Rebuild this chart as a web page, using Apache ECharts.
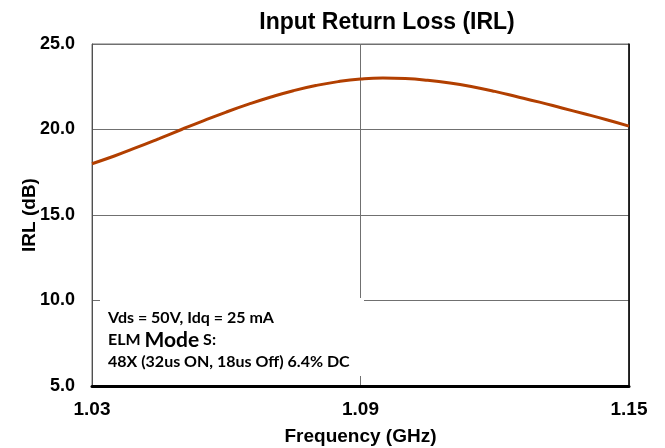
<!DOCTYPE html>
<html>
<head>
<meta charset="utf-8">
<script src="https://cdn.jsdelivr.net/npm/echarts@6/dist/echarts.min.js"></script>
<style>
  html, body { margin: 0; padding: 0; background: #fff; }
  #main { width: 665px; height: 448px; }
</style>
</head>
<body>
<div id="main"></div>
<script>
var freqs = [1.03, 1.035, 1.04, 1.045, 1.05, 1.055, 1.06, 1.065, 1.07, 1.075, 1.08, 1.085, 1.09, 1.095, 1.10, 1.105, 1.11, 1.115, 1.12, 1.125, 1.13, 1.135, 1.14, 1.145, 1.15];
var irl = [18.0, 18.45, 18.95, 19.47, 20.0, 20.52, 21.02, 21.48, 21.9, 22.27, 22.57, 22.8, 22.95, 23.01, 22.98, 22.88, 22.72, 22.5, 22.23, 21.92, 21.6, 21.26, 20.92, 20.57, 20.2];
var yTicks = [5, 10, 15, 20, 25];
var xTicks = [1.03, 1.09, 1.15];

var noteLines = [
    '{a|Vds = 50V, Idq = 25 mA}',
    '{a|ELM }{c|Mode}{a| S:}',
    '{a|48X (32us ON, 18us Off) 6.4% DC}'
];

var points = [];
for (var i = 0; i < freqs.length; i++) {
    points.push([freqs[i], irl[i]]);
}

var myChart = echarts.init(document.getElementById('main'));

var option = {
    animation: false,
    backgroundColor: '#fff',
    textStyle: { fontFamily: 'Liberation Sans' },
    title: {
        text: 'Input Return Loss (IRL)',
        left: 382,
        textAlign: 'center',
        top: 6,
        textStyle: { fontSize: 23, fontWeight: 'bold', color: '#000', fontFamily: 'Liberation Sans' }
    },
    grid: {
        left: 92,
        right: 36,
        top: 44,
        bottom: 62,
        outerBoundsMode: 'none',
        show: true,
        borderColor: '#707070',
        borderWidth: 1
    },
    xAxis: {
        type: 'value',
        min: xTicks[0],
        max: xTicks[xTicks.length - 1],
        interval: xTicks[1] - xTicks[0],
        name: 'Frequency (GHz)',
        nameLocation: 'middle',
        nameGap: 41,
        nameTextStyle: { fontSize: 19, fontWeight: 'bold', color: '#000' },
        axisLine: { lineStyle: { color: '#000', width: 3 } },
        axisTick: { show: false },
        axisLabel: {
            margin: 14,
            fontSize: 19,
            fontWeight: 'bold',
            color: '#000',
            formatter: function (v) { return v.toFixed(2); }
        },
        splitLine: { show: true, lineStyle: { color: '#707070', width: 1 } }
    },
    yAxis: [
        {
            type: 'value',
            min: yTicks[0],
            max: yTicks[yTicks.length - 1],
            interval: yTicks[1] - yTicks[0],
            name: 'IRL (dB)',
            nameLocation: 'middle',
            nameGap: 53,
            nameRotate: 90,
            nameMoveOverlap: false,
            nameTextStyle: { fontSize: 19, fontWeight: 'bold', color: '#000' },
            axisLine: { show: true, lineStyle: { color: '#505050', width: 1 } },
            axisTick: { show: false },
            axisLabel: {
                margin: 17,
                fontSize: 18,
                fontWeight: 'bold',
                color: '#000',
                formatter: function (v) { return v.toFixed(1); }
            },
            splitLine: { show: true, lineStyle: { color: '#707070', width: 1 } }
        },
        {
            type: 'value',
            position: 'right',
            min: yTicks[0],
            max: yTicks[yTicks.length - 1],
            axisLine: { show: true, lineStyle: { color: '#000', width: 1.5 } },
            axisTick: { show: false },
            axisLabel: { show: false },
            splitLine: { show: false }
        }
    ],
    series: [
        {
            name: 'IRL',
            type: 'line',
            data: points,
            smooth: true,
            showSymbol: false,
            lineStyle: { color: '#B23F00', width: 3 },
            z: 3
        }
    ],
    graphic: [
        {
            type: 'rect',
            left: 100,
            top: 298,
            shape: { width: 264, height: 78 },
            style: { fill: '#fff' },
            z: 10
        },
        {
            type: 'text',
            left: 108,
            top: 310,
            z: 11,
            style: {
                text: noteLines.join('\n'),
                fontFamily: 'Lato',
                rich: {
                    a: { fontSize: 16, fontWeight: 'bold', fontFamily: 'Lato', fill: '#000', lineHeight: 22 },
                    c: { fontSize: 21, fontWeight: 'bold', fontFamily: 'Lato', fill: '#000', lineHeight: 22 }
                }
            }
        }
    ]
};

myChart.setOption(option);
</script>
</body>
</html>
